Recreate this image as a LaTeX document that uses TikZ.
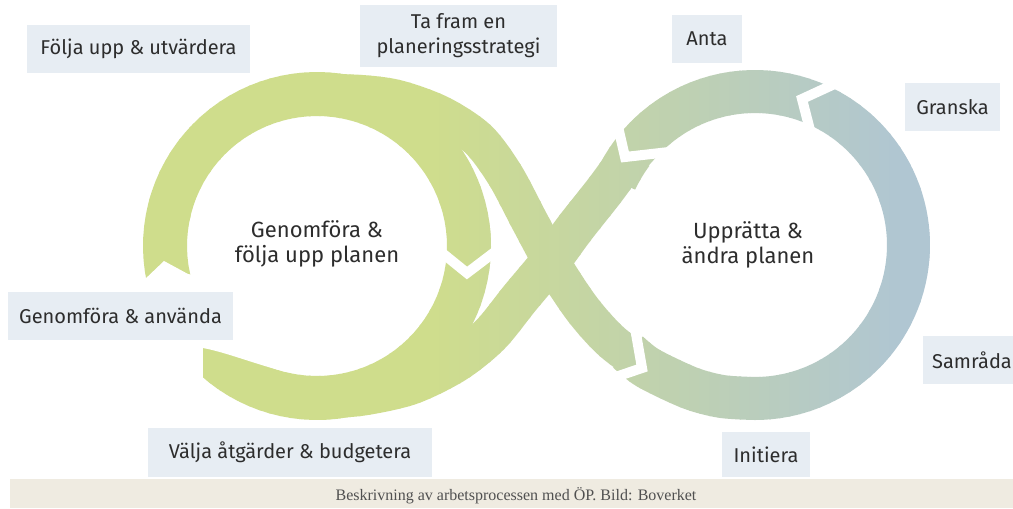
\documentclass[tikz,border=0pt]{standalone}
\usepackage{fontspec}
\setmainfont{Fira Sans}
\newfontfamily\capfont{Liberation Serif}
\definecolor{bandG}{RGB}{207,221,140}
\definecolor{bandB}{RGB}{176,198,210}
\definecolor{boxc}{RGB}{231,237,243}
\definecolor{txtc}{RGB}{45,45,45}
\definecolor{capbg}{RGB}{239,235,225}
\definecolor{captx}{RGB}{80,80,80}
\begin{document}
\begin{tikzpicture}[x=0.75pt,y=-0.75pt,
  lbl/.style={fill=boxc,text=txtc,inner sep=0pt,align=center,font=\fontsize{15}{18.75}\selectfont},
  ctr/.style={text=txtc,inner sep=0pt,align=center,font=\fontsize{16.5}{19}\selectfont},
  gap/.style={draw=white,line width=7.5pt,line join=miter,line cap=butt}]
\useasboundingbox (0,0) rectangle (1013,508);
\fill[white] (0,0) rectangle (1013,508);

% bands, coloured in vertical strips for a left-to-right gradient
\foreach \i in {14,...,94}{
  \pgfmathsetmacro\xa{\i*10}
  \pgfmathsetmacro\p{min(100,max(0,(\xa+5-430)/4.7))}
  \begin{scope}
    \clip (\xa-0.6,0) rectangle (\xa+10.6,508);
    % left loop ring
    \draw[line width=33pt,draw=bandB!\p!bandG]
      plot[domain=196:-140,samples=90,variable=\t] ({317+152*cos(\t)},{246-152*sin(\t)});
    % band from top of left loop down to the right loop
    \draw[line width=28pt,draw=bandB!\p!bandG]
      plot[smooth] coordinates {(265,103.2) (304,94.6) (350,93) (395,98) (440,114) (478,139) (505,175) (530,222) (555,268) (583,310) (612,342) (648,368) (665,376)};
    % right loop ring
    \draw[line width=32.25pt,draw=bandB!\p!bandG,line join=round]
      plot[smooth] coordinates {(628,352) (648,368) (690,388) (722,396.5) (755,398.5)}
      -- plot[domain=-90:155,samples=90,variable=\t] ({755+153.5*cos(\t)},{245-153.5*sin(\t)});
    % band from top of right loop down to the left loop
    \draw[line width=30pt,draw=bandB!\p!bandG]
      plot[smooth] coordinates {(650.4,130.4) (642.7,140.3) (632.4,152.6) (605,190) (575,228) (550,262) (520,298) (490,335) (455,363) (410,385) (360,396) (317,398.5)};
  \end{scope}
}

% end shapes
\fill[white] (128,283) -- (143,281) -- (164,261) -- (188,274) -- (206,277) -- (206,304) -- (128,304) -- cycle;
\fill[white] (170,328) rectangle (203,400);
\fill[white] (203,318) -- (203,348) .. controls (225,352) and (255,364) .. (286,372) -- (286,318) -- cycle;
\fill[white] (648.8,165.6) -- (658,155.6) -- (675,154) -- (675,170) -- cycle;

% chevron joints
\draw[gap] (441,252) -- (467,273) -- (496,251);
\draw[gap] (841,81) -- (802,99) -- (811,134);
\draw[gap] (616,118) -- (625,157) -- (669,152);
\draw[gap] (635,328) -- (642,368) -- (592,385);

% caption
\fill[capbg] (10,479) rectangle (1013,508);
\node[font=\capfont\fontsize{12}{14}\selectfont,text=captx,inner sep=0pt] (cap) at (516,496) {Beskrivning av arbetsprocessen med ÖP. Bild: Boverket};

% labels
\node[lbl,minimum width=167.25pt,minimum height=36pt] (folja) at (138.5,49) {Följa upp \& utvärdera};
\node[lbl,minimum width=147.75pt,minimum height=46.5pt] (tafram) at (458.5,36) {Ta fram en\\planeringsstrategi};
\node[lbl,minimum width=52.5pt,minimum height=36pt] (anta) at (707,39) {Anta};
\node[lbl,minimum width=71.25pt,minimum height=36pt] (granska) at (952.5,107) {Granska};
\node[lbl,minimum width=168.75pt,minimum height=36pt] (genomf) at (120.5,316) {Genomföra \& använda};
\node[lbl,minimum width=73.5pt,minimum height=36pt] (samrada) at (972,360) {Samråda};
\node[lbl,minimum width=213pt,minimum height=36.75pt] (valja) at (290,452.5) {Välja åtgärder \& budgetera};
\node[lbl,minimum width=66pt,minimum height=33.75pt] (initiera) at (766,454.5) {Initiera};

\node[ctr] (lc) at (317,244) {Genomföra \&\\följa upp planen};
\node[ctr] (rc) at (748,245) {Upprätta \&\\ändra planen};
\end{tikzpicture}
\end{document}
